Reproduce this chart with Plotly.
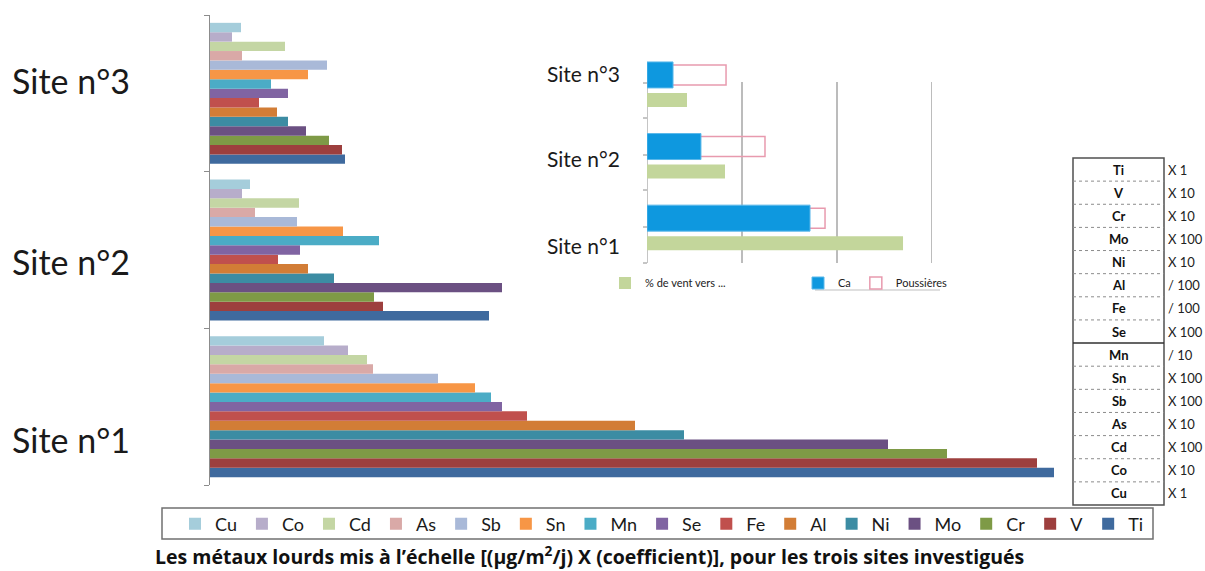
import plotly.graph_objects as go

W, H = 1205, 571


def px(x):
    return x / W


def py(y):
    return 1 - y / H


# ---------------- data ----------------
sites = ["Site n°1", "Site n°2", "Site n°3"]
metals = ["Ti", "V", "Cr", "Mo", "Ni", "Al", "Fe", "Se", "Mn", "Sn", "Sb", "As", "Cd", "Co", "Cu"]
site1 = [844, 827, 737, 678, 474, 425, 317, 292, 281, 265, 228, 163, 157, 138, 114]
site2 = [279, 173, 164, 292, 124, 98, 68, 90, 169, 133, 87, 45, 89, 32, 40]
site3 = [135, 132, 119, 96, 78, 67, 49, 78, 61, 98, 117, 32, 75, 22, 31]
coefs = ["X 1", "X 10", "X 10", "X 100", "X 10", "/ 100", "/ 100", "X 100",
         "/ 10", "X 100", "X 100", "X 10", "X 100", "X 10", "X 1"]
colors = ["#3F6A9E", "#9D3F3E", "#7E9A46", "#6B5082", "#3C8CA3", "#D27D36", "#C0504D",
          "#8064A2", "#4BACC6", "#F79646", "#A9B9D8", "#D9A9A7", "#C4D6A4", "#B7ADCA", "#A5CDDB"]

# inset chart
inset_sites = ["Site n°1", "Site n°2", "Site n°3"]
vent = [2.695, 0.821, 0.421]
ca = [1.716, 0.568, 0.274]
pous = [1.874, 1.242, 0.832]

caption = "Les métaux lourds mis à l’échelle [(µg/m<sup>2</sup>/j) X (coefficient)], pour les trois sites investigués"

FONT = "Lato"

fig = go.Figure()

# main grouped bars (Ti at bottom of each group)
for i, m in enumerate(metals):
    fig.add_trace(go.Bar(
        y=sites, x=[site1[i], site2[i], site3[i]], name=m, orientation="h",
        marker=dict(color=colors[i], line=dict(width=0)),
        xaxis="x", yaxis="y", legend="legend",
    ))

# inset bars
fig.add_trace(go.Bar(
    y=inset_sites, x=vent, name="% de vent vers ...", orientation="h",
    marker=dict(color="#C3D69B", line=dict(width=0)),
    width=0.195, offset=-0.272, xaxis="x2", yaxis="y2", legend="legend2",
))
fig.add_trace(go.Bar(
    y=inset_sites, x=pous, name="Poussières", orientation="h",
    marker=dict(color="rgba(255,255,255,0)", line=dict(color="#E89AAE", width=1.5)),
    width=0.28, offset=0.035, xaxis="x2", yaxis="y2", legend="legend3",
))
fig.add_trace(go.Bar(
    y=inset_sites, x=ca, name="Ca", orientation="h",
    marker=dict(color="#0E98DF", line=dict(color="#5BB8EA", width=1)),
    width=0.363, offset=-0.006, xaxis="x2", yaxis="y2", legend="legend3",
))
fig.data[-1].legendrank = 1
fig.data[-2].legendrank = 2

shapes = []
annotations = []

# inset gridlines and axis
for gx in [1, 2, 3]:
    shapes.append(dict(type="line", xref="x2", yref="paper", x0=gx, x1=gx,
                       y0=py(263), y1=py(82), line=dict(color="#A6A6A6", width=1.5), layer="below"))
shapes.append(dict(type="line", xref="x2", yref="paper", x0=0, x1=0,
                   y0=py(263), y1=py(82), line=dict(color="#8C8C8C", width=1), layer="below"))
for ty in [83, 118, 155, 190, 227, 263]:
    shapes.append(dict(type="line", xref="paper", yref="paper", x0=px(643), x1=px(647),
                       y0=py(ty), y1=py(ty), line=dict(color="#8C8C8C", width=1)))
shapes.append(dict(type="line", xref="paper", yref="paper", x0=px(815), x1=px(940),
                   y0=py(290), y1=py(290), line=dict(color="#BFBFBF", width=1)))

# inset site labels
for lab, yy in zip(["Site n°3", "Site n°2", "Site n°1"], [73, 158, 245]):
    annotations.append(dict(text=lab, xref="paper", yref="paper", x=px(545), y=py(yy),
                            xanchor="left", yanchor="middle", showarrow=False,
                            font=dict(family=FONT, size=21, color="#1a1a1a")))

# main site labels
for lab, yy in zip(["Site n°3", "Site n°2", "Site n°1"], [81, 261, 440]):
    annotations.append(dict(text=lab, xref="paper", yref="paper", x=px(10), y=py(yy),
                            xanchor="left", yanchor="middle", showarrow=False,
                            font=dict(family=FONT, size=34, color="#1a1a1a")))

# legend frame
shapes.append(dict(type="rect", xref="paper", yref="paper", x0=px(162), x1=px(1153),
                   y0=py(539), y1=py(508), line=dict(color="#707070", width=1.5)))

# table of coefficients
tx0, tx1, ty0, ty1 = 1073, 1164, 158, 505
rh = (ty1 - ty0) / len(metals)
shapes.append(dict(type="rect", xref="paper", yref="paper", x0=px(tx0), x1=px(tx1),
                   y0=py(ty1), y1=py(ty0), line=dict(color="#505050", width=1.5)))
for i in range(1, len(metals)):
    yy = ty0 + i * rh
    if i == 8:
        ln = dict(color="#303030", width=1.5)
    else:
        ln = dict(color="#8C8C8C", width=1, dash="dot")
    shapes.append(dict(type="line", xref="paper", yref="paper", x0=px(tx0), x1=px(tx1),
                       y0=py(yy), y1=py(yy), line=ln))
for i, (m, c) in enumerate(zip(metals, coefs)):
    yc = ty0 + (i + 0.5) * rh
    annotations.append(dict(text="<b>" + m + "</b>", xref="paper", yref="paper",
                            x=px((tx0 + tx1) / 2), y=py(yc), xanchor="center", yanchor="middle",
                            showarrow=False, font=dict(family=FONT, size=13, color="#111")))
    annotations.append(dict(text=c, xref="paper", yref="paper", x=px(1166), y=py(yc),
                            xanchor="left", yanchor="middle", showarrow=False,
                            font=dict(family=FONT, size=13, color="#222")))

# caption
annotations.append(dict(text="<b>" + caption + "</b>", xref="paper", yref="paper",
                        x=px(589), y=py(555), xanchor="center", yanchor="middle",
                        showarrow=False, font=dict(family="Open Sans", size=19.5, color="#111")))

fig.update_layout(
    width=W, height=H,
    margin=dict(l=0, r=0, t=0, b=0),
    paper_bgcolor="white", plot_bgcolor="rgba(0,0,0,0)",
    font=dict(family=FONT, color="#222"),
    barmode="group", bargap=0.1, bargroupgap=0,
    xaxis=dict(domain=[px(210), 1], range=[0, 995], visible=False, fixedrange=True),
    yaxis=dict(domain=[py(485), py(15)], type="category", categoryorder="array",
               categoryarray=sites, range=[-0.5, 2.5], tickson="boundaries",
               ticks="outside", ticklen=5, tickcolor="#8C8C8C", showline=True,
               linecolor="#8C8C8C", linewidth=1, showticklabels=False, showgrid=False,
               zeroline=False),
    xaxis2=dict(domain=[px(647), px(932)], range=[0, 3], visible=False, anchor="y2"),
    yaxis2=dict(domain=[py(266.5), py(51.7)], type="category", categoryorder="array",
                categoryarray=inset_sites, range=[-0.5, 2.5], visible=False, anchor="x2"),
    legend=dict(orientation="h", traceorder="reversed", x=px(175), y=py(524),
                xanchor="left", yanchor="middle", font=dict(family=FONT, size=18, color="#1a1a1a"),
                bgcolor="rgba(0,0,0,0)", itemwidth=30),
    legend2=dict(orientation="h", x=px(605), y=py(283), xanchor="left", yanchor="middle",
                 font=dict(family=FONT, size=11, color="#222"), bgcolor="rgba(0,0,0,0)",
                 itemwidth=30),
    legend3=dict(orientation="h", x=px(798), y=py(283), xanchor="left", yanchor="middle",
                 font=dict(family=FONT, size=11, color="#222"), bgcolor="rgba(0,0,0,0)",
                 itemwidth=30),
    shapes=shapes,
    annotations=annotations,
    showlegend=True,
)

fig.write_html("out.html", config={"displayModeBar": False},
               post_script="document.body.style.margin='0';document.body.style.overflow='hidden';")
